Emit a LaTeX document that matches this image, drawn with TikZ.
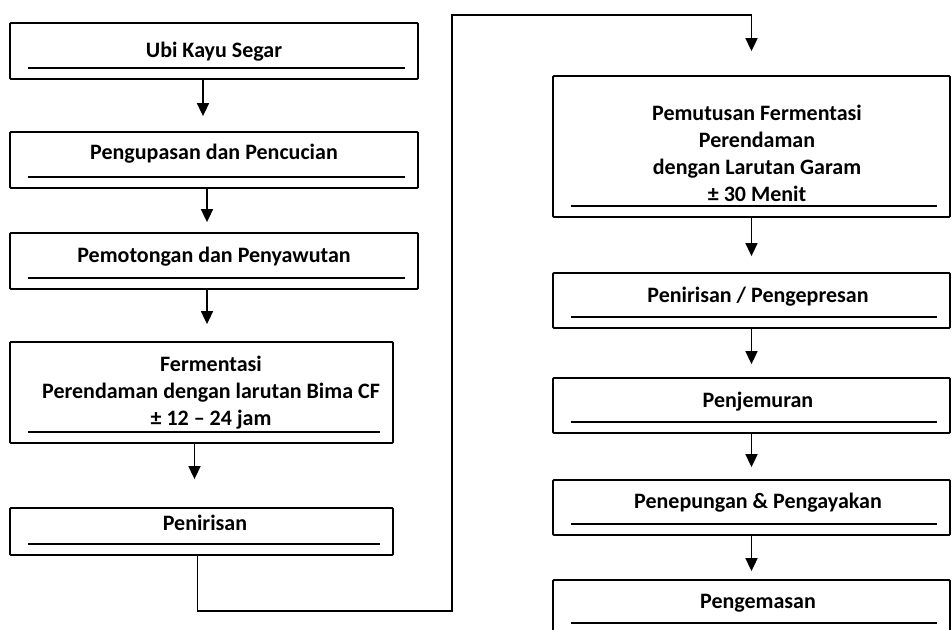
\documentclass[tikz,border=0pt]{standalone}
\usepackage{fontspec}
\setmainfont{Carlito}
\usepackage{tikz}
\usetikzlibrary{arrows.meta}
\tikzset{>={Triangle[width=12pt,length=13pt]}}
\tikzset{%
    stepbox/.style={%
        draw, line width=1.8pt, rounded corners=1pt, inner sep=0pt,
        path picture={%
            \draw[line width=1.2pt,sharp corners]
              ([xshift=18pt,yshift=11pt]path picture bounding box.south west) --
              ([xshift=-13pt,yshift=11pt]path picture bounding box.south east);}
    },
    steptext/.style={font=\fontsize{22}{27}\selectfont\bfseries, inner sep=0pt, align=center},
    flow/.style={->, line width=1.7pt}
}

\begin{document}
\begin{tikzpicture}[x=1pt,y=-1pt]
    \clip (0,0) rectangle (952,629);
    % left column
    \node[stepbox, minimum width=408pt, minimum height=56pt] (ubi) at (214,51) {};
    \node[stepbox, minimum width=408pt, minimum height=56pt] (kupas) at (214,160) {};
    \node[stepbox, minimum width=408pt, minimum height=56pt] (potong) at (214,261) {};
    \node[stepbox, minimum width=383pt, minimum height=101pt] (ferm) at (201.5,392.5) {};
    \node[stepbox, minimum width=383pt, minimum height=47pt] (tiris) at (201.5,531.5) {};
    \node[steptext, anchor=base] (ubi-t) at (214,57) {Ubi Kayu Segar};
    \node[steptext, anchor=base] (kupas-t) at (214,159) {Pengupasan dan Pencucian};
    \node[steptext, anchor=base] (potong-t) at (214,262) {Pemotongan dan Penyawutan};
    \node[steptext] (ferm-t) at (211,393) {Fermentasi\\Perendaman dengan larutan Bima CF\\± 12 – 24 jam};
    \node[steptext, anchor=base] (tiris-t) at (205,530) {Penirisan};
    % right column
    \node[stepbox, minimum width=397pt, minimum height=141pt] (putus) at (751.5,146.5) {};
    \node[stepbox, minimum width=397pt, minimum height=55pt] (peras) at (751.5,300.5) {};
    \node[stepbox, minimum width=397pt, minimum height=55pt] (jemur) at (751.5,405.5) {};
    \node[stepbox, minimum width=397pt, minimum height=55pt] (tepung) at (751.5,507.5) {};
    \node[stepbox, minimum width=397pt, minimum height=54pt] (kemas) at (751.5,607) {};
    \node[steptext] (putus-t) at (757,153) {Pemutusan Fermentasi\\Perendaman\\dengan Larutan Garam\\± 30 Menit};
    \node[steptext, anchor=base] (peras-t) at (758,302) {Penirisan / Pengepresan};
    \node[steptext, anchor=base] (jemur-t) at (758,407) {Penjemuran};
    \node[steptext, anchor=base] (tepung-t) at (758,508) {Penepungan \& Pengayakan};
    \node[steptext, anchor=base] (kemas-t) at (758,608) {Pengemasan};
    % connectors
    \coordinate (lowturn) at (452,611);
    \coordinate (topturn) at (452,15);
    \draw[flow, shorten >=15pt] ([xshift=-11pt]ubi.south) -- ([xshift=-11pt]kupas.north);
    \draw[flow, shorten >=10pt] ([xshift=-7pt]kupas.south) -- ([xshift=-7pt]potong.north);
    \draw[flow, shorten >=17pt] ([xshift=-7pt]potong.south) -- ([xshift=-7pt]potong.south |- ferm.north);
    \draw[flow, shorten >=28pt] ([xshift=-7pt]ferm.south) -- ([xshift=-7pt]tiris.north);
    \draw[flow, shorten >=24pt] ([xshift=-4pt]tiris.south) |- (lowturn) -- (topturn) -| (putus.north);
    \draw[flow, shorten >=16pt] (putus) -- (peras);
    \draw[flow, shorten >=13pt] (peras) -- (jemur);
    \draw[flow, shorten >=12pt] (jemur) -- (tepung);
    \draw[flow, shorten >=8pt] (tepung) -- (kemas);
\end{tikzpicture}
\end{document}
